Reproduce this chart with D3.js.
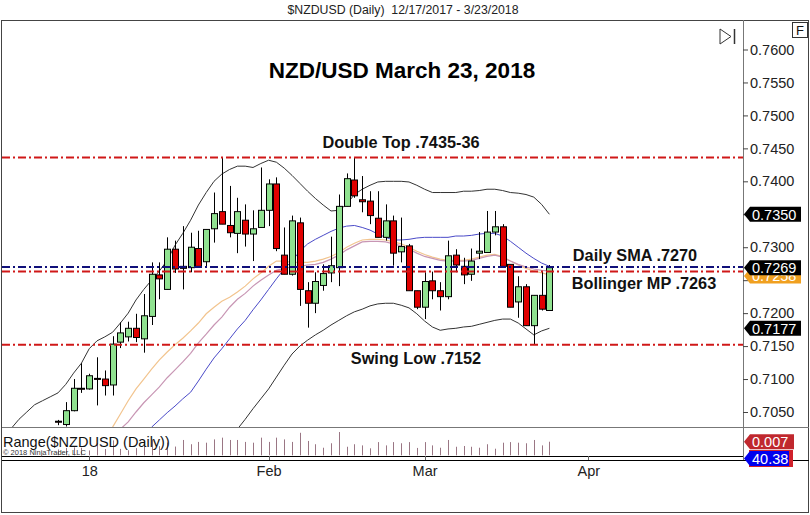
<!DOCTYPE html>
<html><head><meta charset="utf-8">
<script src="https://cdn.jsdelivr.net/npm/d3@7"></script>
<style>
html,body{margin:0;padding:0;background:#fff;}
text{font-family:"Liberation Sans",Arial,sans-serif;}
</style></head>
<body><svg id="c" width="810" height="515"></svg>
<script>
// ---------------- DATA ----------------
const dates = ["2017-12-26","2017-12-27","2017-12-28","2017-12-29","2018-01-01","2018-01-02","2018-01-03","2018-01-04","2018-01-05",
"2018-01-08","2018-01-09","2018-01-10","2018-01-11","2018-01-12","2018-01-15","2018-01-16","2018-01-17","2018-01-18","2018-01-19",
"2018-01-22","2018-01-23","2018-01-24","2018-01-25","2018-01-26","2018-01-29","2018-01-30","2018-01-31","2018-02-01","2018-02-02",
"2018-02-05","2018-02-06","2018-02-07","2018-02-08","2018-02-09","2018-02-12","2018-02-13","2018-02-14","2018-02-15","2018-02-16",
"2018-02-19","2018-02-20","2018-02-21","2018-02-22","2018-02-23","2018-02-26","2018-02-27","2018-02-28","2018-03-01","2018-03-02",
"2018-03-05","2018-03-06","2018-03-07","2018-03-08","2018-03-09","2018-03-12","2018-03-13","2018-03-14","2018-03-15","2018-03-16",
"2018-03-19","2018-03-20","2018-03-21","2018-03-22","2018-03-23"];
const open  = [0.7036,0.7031,0.7052,0.7086,0.7085,0.7101,0.7100,0.7091,0.7156,0.7164,0.7177,0.7161,0.7195,0.7258,0.7236,0.7297,0.7271,0.7269,0.7298,0.7278,0.7328,0.7354,0.7333,0.7321,0.7341,0.7320,0.7330,0.7356,0.7396,0.7288,0.7259,0.7337,0.7234,0.7215,0.7242,0.7261,0.7269,0.7362,0.7402,0.7372,0.7370,0.7344,0.7315,0.7340,0.7293,0.7302,0.7234,0.7209,0.7249,0.7234,0.7225,0.7288,0.7271,0.7259,0.7291,0.7292,0.7323,0.7331,0.7274,0.7217,0.7240,0.7181,0.7227,0.7204];
const high  = [0.7038,0.7065,0.7100,0.7124,0.7108,0.7133,0.7113,0.7165,0.7186,0.7187,0.7199,0.7229,0.7277,0.7277,0.7315,0.7310,0.7332,0.7322,0.7325,0.7327,0.7383,0.7436,0.7393,0.7375,0.7365,0.7356,0.7421,0.7403,0.7406,0.7330,0.7348,0.7345,0.7247,0.7262,0.7274,0.7316,0.7380,0.7412,0.7436,0.7408,0.7385,0.7385,0.7365,0.7348,0.7345,0.7305,0.7234,0.7262,0.7263,0.7247,0.7310,0.7297,0.7284,0.7298,0.7323,0.7355,0.7355,0.7335,0.7274,0.7256,0.7244,0.7227,0.7264,0.7273];
const low   = [0.7030,0.7028,0.7051,0.7079,0.7084,0.7060,0.7075,0.7075,0.7147,0.7157,0.7156,0.7140,0.7182,0.7221,0.7236,0.7261,0.7236,0.7262,0.7271,0.7271,0.7307,0.7335,0.7315,0.7291,0.7301,0.7279,0.7330,0.7332,0.7294,0.7259,0.7257,0.7211,0.7178,0.7200,0.7234,0.7247,0.7241,0.7362,0.7375,0.7353,0.7335,0.7315,0.7310,0.7272,0.7277,0.7234,0.7206,0.7191,0.7221,0.7204,0.7221,0.7262,0.7244,0.7249,0.7282,0.7292,0.7318,0.7271,0.7209,0.7193,0.7181,0.7153,0.7204,0.7204];
const close = [0.7035,0.7052,0.7086,0.7085,0.7105,0.7100,0.7090,0.7153,0.7170,0.7177,0.7163,0.7196,0.7259,0.7252,0.7297,0.7267,0.7268,0.7300,0.7271,0.7327,0.7351,0.7335,0.7322,0.7354,0.7320,0.7328,0.7356,0.7396,0.7298,0.7259,0.7340,0.7236,0.7215,0.7248,0.7260,0.7272,0.7362,0.7404,0.7378,0.7369,0.7348,0.7315,0.7340,0.7291,0.7301,0.7234,0.7209,0.7248,0.7234,0.7225,0.7287,0.7273,0.7258,0.7279,0.7294,0.7323,0.7331,0.7271,0.7209,0.7240,0.7181,0.7227,0.7206,0.7269];
const rangeVals = [0.0030,0.0038,0.0041,0.0039,0.0025,0.0062,0.0032,0.0077,0.0033,0.0026,0.0037,0.0075,0.0081,0.0047,0.0066,0.0045,
0.0079,0.0057,0.0069,0.0065,0.0082,0.0091,0.0079,0.0079,0.0069,0.0065,0.0091,0.0069,0.0091,0.0082,0.0069,0.0116,0.0074,0.0057,
0.0039,0.0062,0.0120,0.0044,0.0057,0.0051,0.0036,0.0068,0.0051,0.0068,0.0062,0.0068,0.0038,0.0068,0.0051,0.0039,0.0079,0.0044,
0.0048,0.0044,0.0039,0.0057,0.0034,0.0065,0.0068,0.0065,0.0062,0.0079,0.0051,0.0070];

// Bollinger upper band (first value belongs to bar index -6)
const bbUpperStart = -6;
const bbUpper = [0.7025,0.7039,0.7050,0.7061,0.7067,0.7073,0.7079,0.7092,0.7109,0.7124,0.7146,0.7158,0.7164,0.7171,0.7185,0.7200,
0.7220,0.7236,0.7250,0.7264,0.7280,0.7303,0.7321,0.7341,0.7364,0.7383,0.7400,0.7411,0.7418,0.7423,0.7423,0.7421,0.7427,0.7432,
0.7429,0.7420,0.7409,0.7397,0.7385,0.7374,0.7364,0.7355,0.7356,0.7365,0.7380,0.7388,0.7394,0.7399,0.7400,0.7400,0.7400,0.7399,
0.7394,0.7388,0.7383,0.7383,0.7383,0.7383,0.7385,0.7385,0.7386,0.7388,0.7388,0.7386,0.7383,0.7382,0.7380,0.7376,0.7365,0.7350];
// Bollinger lower band (first value belongs to bar index 20)
const bbLowerStart = 20;
const bbLower = [0.6982,0.6994,0.7009,0.7024,0.7039,0.7055,0.7070,0.7085,0.7103,0.7121,0.7138,0.7150,0.7159,0.7167,0.7174,0.7182,
0.7189,0.7196,0.7202,0.7206,0.7211,0.7214,0.7215,0.7215,0.7212,0.7208,0.7199,0.7188,0.7179,0.7174,0.7176,0.7177,0.7179,0.7180,
0.7183,0.7186,0.7189,0.7191,0.7191,0.7185,0.7176,0.7167,0.7173,0.7177];
// Daily SMA (blue), first value at bar index 12
const smaStart = 12;
const sma = [0.7027,0.7038,0.7049,0.7059,0.7070,0.7080,0.7097,0.7115,0.7132,0.7146,0.7161,0.7176,0.7189,0.7205,0.7220,0.7236,
0.7252,0.7267,0.7279,0.7294,0.7305,0.7312,0.7318,0.7324,0.7329,0.7332,0.7333,0.7330,0.7326,0.7320,0.7315,0.7311,0.7311,0.7312,
0.7314,0.7315,0.7315,0.7315,0.7315,0.7317,0.7317,0.7318,0.7320,0.7321,0.7321,0.7317,0.7309,0.7300,0.7291,0.7283,0.7276,0.7271];
// Orange moving average, first value at bar index 7
const maOrangeStart = 7;
const maOrange = [0.7027,0.7047,0.7067,0.7085,0.7100,0.7115,0.7129,0.7141,0.7152,0.7162,0.7173,0.7185,0.7199,0.7209,0.7218,0.7224,
0.7232,0.7241,0.7252,0.7261,0.7271,0.7279,0.7279,0.7277,0.7277,0.7277,0.7279,0.7282,0.7286,0.7292,0.7300,0.7306,0.7311,0.7312,
0.7312,0.7311,0.7308,0.7305,0.7300,0.7294,0.7289,0.7285,0.7282,0.7280,0.7280,0.7280,0.7282,0.7285,0.7288,0.7289,0.7286,0.7279,
0.7273,0.7268,0.7264,0.7261,0.7258];
// Pink moving average, first value at bar index 8
const maPinkStart = 8;
const maPink = [0.7024,0.7035,0.7050,0.7064,0.7076,0.7088,0.7102,0.7114,0.7126,0.7139,0.7155,0.7168,0.7182,0.7194,0.7209,0.7221,
0.7230,0.7241,0.7250,0.7258,0.7265,0.7268,0.7270,0.7271,0.7273,0.7274,0.7277,0.7282,0.7288,0.7296,0.7302,0.7308,0.7309,0.7309,
0.7308,0.7305,0.7302,0.7297,0.7291,0.7286,0.7283,0.7280,0.7279,0.7279,0.7279,0.7280,0.7283,0.7286,0.7288,0.7285,0.7279,0.7274,
0.7270,0.7267,0.7265,0.7264];

const yTicks = [0.7050,0.7100,0.7150,0.7200,0.7250,0.7300,0.7350,0.7400,0.7450,0.7500,0.7550,0.7600];
const monthLabels = ["18","Feb","Mar","Apr"];
const monthIdx = [4,27,47,68];
const levelValues = [0.7436,0.7152,0.7263,0.7270];
const levelTexts = ["Double Top .7435-36","Swing Low .7152","Bollinger MP .7263","Daily SMA .7270"];
const title = "NZD/USD March 23, 2018";
const header = "$NZDUSD (Daily)  12/17/2017 - 3/23/2018";

// ---------------- CHART ----------------
const svg = d3.select("#c");
const L = 2, R = 743, T = 20, B = 427, RB = 456;
const x = d3.scaleLinear().domain([-7.18, 87.82]).range([L, R]);
const y = d3.scaleLinear().domain([0.7050, 0.7600]).range([412, 49.5]);
const yr = d3.scaleLinear().domain([0, 0.015]).range([455.3, 426.2]);

svg.append("rect").attr("x",0).attr("y",0).attr("width",810).attr("height",515).attr("fill","#fff");
svg.append("text").attr("x",403).attr("y",10).attr("text-anchor","middle").attr("dominant-baseline","central")
  .attr("font-size",12.3).attr("fill","#222").attr("xml:space","preserve").text(header);

// frame
svg.append("rect").attr("x",1.5).attr("y",20.5).attr("width",807).attr("height",492).attr("fill","none").attr("stroke","#444").attr("stroke-width",1);

const defs = svg.append("defs");
defs.append("clipPath").attr("id","mainClip").append("rect").attr("x",L).attr("y",T+1).attr("width",R-L).attr("height",B-T-1);
defs.append("clipPath").attr("id","rangeClip").append("rect").attr("x",L).attr("y",B+1).attr("width",R-L).attr("height",RB-B-1);

const main = svg.append("g").attr("clip-path","url(#mainClip)");

function series(vals, start){ return vals.map((v,k)=>({i:start+k, v})); }
const line = d3.line().x(d=>x(d.i)).y(d=>y(d.v));

main.append("path").datum(series(maOrange,maOrangeStart)).attr("d",line).attr("fill","none").attr("stroke","#f2c48e").attr("stroke-width",1.2);
main.append("path").datum(series(maPink,maPinkStart)).attr("d",line).attr("fill","none").attr("stroke","#c896b4").attr("stroke-width",1.2);
main.append("path").datum(series(sma,smaStart)).attr("d",line).attr("fill","none").attr("stroke","#4a4ac8").attr("stroke-width",1);
main.append("path").datum(series(bbUpper,bbUpperStart)).attr("d",line).attr("fill","none").attr("stroke","#333").attr("stroke-width",1);
main.append("path").datum(series(bbLower,bbLowerStart)).attr("d",line).attr("fill","none").attr("stroke","#333").attr("stroke-width",1);

// candles
const bars = dates.map((d,i)=>({i, o:open[i], h:high[i], l:low[i], c:close[i]}));
const bw = 6;
const cg = main.append("g");
cg.selectAll("line.w").data(bars).join("line")
  .attr("x1",d=>Math.round(x(d.i))+0.5).attr("x2",d=>Math.round(x(d.i))+0.5)
  .attr("y1",d=>y(d.h)).attr("y2",d=>y(d.l)).attr("stroke","#000").attr("stroke-width",1);
cg.selectAll("rect").data(bars).join("rect")
  .attr("x",d=>Math.round(x(d.i))-bw/2+0.5).attr("width",bw)
  .attr("y",d=>y(Math.max(d.o,d.c))).attr("height",d=>Math.max(1,Math.abs(y(d.o)-y(d.c))))
  .attr("fill",d=>d.c>=d.o?"#90e290":"#e00000").attr("stroke","#000").attr("stroke-width",1);

// level lines
const levelColors = ["#d01818","#d01818","#d01818","#10107a"];
levelValues.forEach((v,k)=>{
  main.append("line").attr("x1",L).attr("x2",R).attr("y1",y(v)).attr("y2",y(v))
    .attr("stroke",levelColors[k]).attr("stroke-width",2).attr("stroke-dasharray","8,3,2,3");
});

// texts
svg.append("text").attr("x",402).attr("y",70).attr("text-anchor","middle").attr("dominant-baseline","central")
  .attr("font-size",22.5).attr("font-weight","bold").attr("fill","#000").text(title);
const textPos = [[401,142],[416,358],[644,283],[635,255]];
levelTexts.forEach((t,k)=>{
  svg.append("text").attr("x",textPos[k][0]).attr("y",textPos[k][1]).attr("text-anchor","middle").attr("dominant-baseline","central")
   .attr("font-size",16.3).attr("font-weight","bold").attr("fill","#111").text(t);
});

// panel separators and axes lines
svg.append("line").attr("x1",L).attr("x2",R).attr("y1",B+0.5).attr("y2",B+0.5).attr("stroke","#777");
svg.append("line").attr("x1",L).attr("x2",R).attr("y1",RB+0.5).attr("y2",RB+0.5).attr("stroke","#000");
svg.append("line").attr("x1",L).attr("x2",809).attr("y1",460.5).attr("y2",460.5).attr("stroke","#000");
svg.append("line").attr("x1",R+0.5).attr("x2",R+0.5).attr("y1",T).attr("y2",460).attr("stroke","#777");
svg.append("line").attr("x1",R).attr("x2",809).attr("y1",B+0.5).attr("y2",B+0.5).attr("stroke","#777");

// range panel
const rg = svg.append("g").attr("clip-path","url(#rangeClip)");
rg.selectAll("line").data(rangeVals.map((v,i)=>({i,v}))).join("line")
  .attr("x1",d=>Math.round(x(d.i))+0.5).attr("x2",d=>Math.round(x(d.i))+0.5)
  .attr("y1",yr(0)).attr("y2",d=>yr(d.v)).attr("stroke","#9a7684").attr("stroke-width",1);
svg.append("text").attr("x",3).attr("y",442).attr("dominant-baseline","central").attr("font-size",14.5).attr("fill","#111").text("Range($NZDUSD (Daily))");
svg.append("text").attr("x",3).attr("y",452).attr("dominant-baseline","central").attr("font-size",7.5).attr("fill","#333").text("© 2018 NinjaTrader, LLC");

// value tags on the axis
const fmt = d3.format(".4f");
const lastU = bbUpper[bbUpper.length-1], lastL = bbLower[bbLower.length-1], lastO = maOrange[maOrange.length-1], lastC = close[close.length-1];
const tagY = [y(lastO)+1, y(lastC), y(lastU), y(lastL)];

// y axis (tick labels hidden where a value tag covers them, as in the original)
const ya = svg.append("g").attr("transform",`translate(${R},0)`)
  .call(d3.axisRight(y).tickValues(yTicks).tickFormat(d3.format(".4f")).tickSize(5).tickPadding(2));
ya.select(".domain").remove();
ya.selectAll("text").attr("font-size",14.5).attr("fill","#222").style("font-family","Liberation Sans, Arial, sans-serif");
ya.selectAll(".tick line").attr("stroke","#444");
ya.selectAll(".tick").filter(d=>tagY.some(t=>Math.abs(t-y(d))<12)).select("text").remove();

// x axis
const xa = svg.append("g").attr("transform","translate(0,460)")
  .call(d3.axisBottom(x).tickValues(monthIdx).tickFormat((d,k)=>monthLabels[k]).tickSize(0).tickPadding(6));
xa.select(".domain").remove();
xa.selectAll("text").attr("font-size",14.5).attr("fill","#222").style("font-family","Liberation Sans, Arial, sans-serif");
svg.selectAll(".mtick").data(monthIdx).join("line").attr("x1",d=>Math.round(x(d))+0.5).attr("x2",d=>Math.round(x(d))+0.5)
  .attr("y1",456).attr("y2",460).attr("stroke","#666");

function tagShape(yc, fill, w){
  const h=15, x0=R+1, x1=R+7, x2=R+1+w;
  return svg.append("path").attr("d",`M${x0},${yc} L${x1},${yc-h/2} L${x2},${yc-h/2} L${x2},${yc+h/2} L${x1},${yc+h/2} Z`).attr("fill",fill);
}
function tag(yc, fill, txt, w, clip){
  tagShape(yc, fill, w);
  const t = svg.append("text").attr("x",R+9).attr("y",yc+0.5).attr("dominant-baseline","central").attr("font-size",14.5).attr("fill","#fff").text(txt);
  if (clip) t.attr("clip-path",clip);
}
// orange tag: only its lower part shows below the black close tag
defs.append("clipPath").attr("id","orangeClip").append("rect").attr("x",R).attr("y",tagY[1]+7.5).attr("width",70).attr("height",20);
tag(tagY[0], "#f0a020", fmt(lastO), 57, "url(#orangeClip)");
tag(tagY[1], "#000", fmt(lastC), 57);
tag(tagY[2], "#000", fmt(lastU), 57);
tag(tagY[3], "#000", fmt(lastL), 57);
// range panel tags
const lastR = rangeVals[rangeVals.length-1];
svg.append("rect").attr("x",R+6).attr("y",450).attr("width",44).attr("height",17).attr("fill","#d0202a");
tag(yr(lastR), "#c0282e", d3.format(".3f")(lastR), 50);
tag(458.5, "#0000ee", "40.38", 45);

// top-right icons
svg.append("path").attr("d","M720,29 L731,36.5 L720,44 Z").attr("fill","none").attr("stroke","#333").attr("stroke-width",1);
svg.append("line").attr("x1",734.5).attr("x2",734.5).attr("y1",29).attr("y2",44).attr("stroke","#333").attr("stroke-width",1.5);
svg.append("rect").attr("x",792.5).attr("y",22.5).attr("width",15).attr("height",15).attr("fill","#fff").attr("stroke","#333");
svg.append("text").attr("x",800).attr("y",30.5).attr("text-anchor","middle").attr("dominant-baseline","central").attr("font-size",13).attr("fill","#111").text("F");
</script></body></html>
